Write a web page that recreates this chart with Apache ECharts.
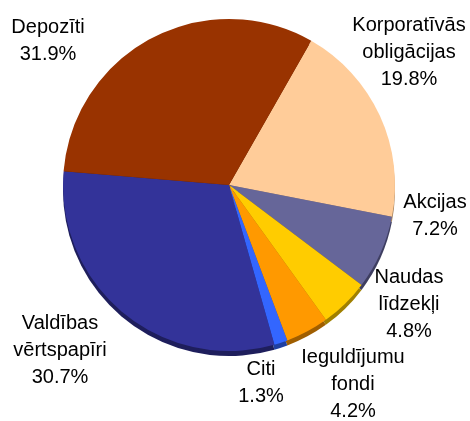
<!DOCTYPE html>
<html>
<head>
<meta charset="utf-8">
<script src="https://cdn.jsdelivr.net/npm/echarts@6/dist/echarts.min.js"></script>
<style>
html,body{margin:0;padding:0;background:#fff;}
#chart{width:470px;height:421px;}
</style>
</head>
<body>
<div id="chart"></div>
<script>
// slices, clockwise from the Depozīti / Korporatīvās border
var names = ['Korporatīvās\nobligācijas', 'Akcijas', 'Naudas\nlīdzekļi', 'Ieguldījumu\nfondi', 'Citi', 'Valdības\nvērtspapīri', 'Depozīti'];
var values = [19.8, 7.2, 4.8, 4.2, 1.3, 30.7, 31.9];
var colors = ['#ffcc99', '#666699', '#ffcc00', '#ff9900', '#3366ff', '#333399', '#993300'];
var sideColors = ['#a88560', '#3e3e60', '#a08000', '#a05e00', '#1f3fa0', '#1e1e5c', '#5c1f00'];
// label block centres
var labelPos = [[409, 52], [435, 216], [409, 304], [353, 384], [261, 383], [60, 350], [48, 41]];

var topData = [], sideData = [];
for (var i = 0; i < names.length; i++) {
	topData.push({name: names[i], value: values[i], itemStyle: {color: colors[i]}});
	sideData.push({name: names[i], value: values[i], itemStyle: {color: sideColors[i]}});
}

var chart = echarts.init(document.getElementById('chart'));
chart.setOption({
	animation: false,
	series: [{
		type: 'pie',
		silent: true,
		center: [229, 190],
		radius: 166,
		startAngle: 60.3,
		label: {show: false},
		labelLine: {show: false},
		data: sideData
	}, {
		type: 'pie',
		center: [229, 185],
		radius: 166,
		startAngle: 60.3,
		itemStyle: {borderWidth: 0},
		label: {
			show: true,
			position: 'inside',
			overflow: 'none',
			formatter: function (p) {
				return p.name + '\n' + p.value.toFixed(1) + '%';
			},
			color: '#000',
			fontFamily: 'Liberation Sans, Arial, sans-serif',
			fontSize: 20,
			lineHeight: 27
		},
		labelLine: {show: false},
		labelLayout: function (p) {
			return {
				x: labelPos[p.dataIndex][0],
				y: labelPos[p.dataIndex][1],
				align: 'center',
				verticalAlign: 'middle'
			};
		},
		data: topData
	}]
});
</script>
</body>
</html>
